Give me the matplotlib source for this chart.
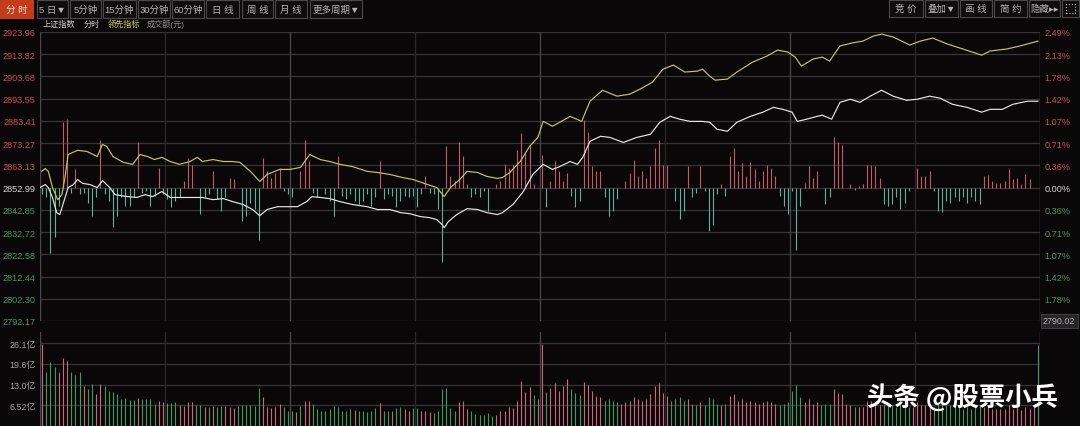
import matplotlib
matplotlib.use('Agg')
import matplotlib.pyplot as plt
from matplotlib.patches import Rectangle
import numpy as np

plt.rcParams['font.family'] = ['Liberation Sans', 'Noto Sans CJK SC', 'DejaVu Sans']

# ---- data ----
price_ticks = [2923.96, 2913.82, 2903.68, 2893.55, 2883.41, 2873.27, 2863.13,
               2852.99, 2842.85, 2832.72, 2822.58, 2812.44, 2802.30, 2792.17]
base_price = 2852.99
low_mark = 2790.02
vol_ticks = [26.1, 19.6, 13.0, 6.52]

# minutes since first open (4 sessions x 240 min) and price, 上证指数
idx_t = [0, 5, 8, 12, 16, 19, 22, 27, 32, 36, 41, 48, 55, 60, 67, 72, 84, 93, 101, 108,
         117, 125, 134, 144, 156, 166, 176, 185, 195, 204, 211, 218, 228, 237, 247, 256,
         261, 269, 278, 288, 300, 314, 324, 336, 346, 355, 365, 374, 381, 386, 388, 392,
         400, 410, 420, 429, 439, 444, 454, 464, 473, 483, 492, 499, 509, 516, 521, 528,
         538, 547, 560, 573, 586, 595, 605, 614, 624, 636, 643, 650, 660, 669, 682, 694,
         704, 713, 722, 727, 736, 746, 751, 760, 768, 778, 787, 797, 808, 819, 832, 842,
         854, 864, 876, 890, 904, 912, 924, 934, 948, 958]
idx_p = [2853.0, 2854.4, 2853.0, 2848.5, 2841.6, 2840.7, 2845.3, 2853.0, 2854.4, 2856.7,
         2854.9, 2854.4, 2853.0, 2856.2, 2853.0, 2849.8, 2848.9, 2848.5, 2849.8, 2848.9,
         2851.2, 2848.5, 2848.5, 2848.5, 2848.5, 2847.5, 2848.0, 2846.6, 2845.3, 2843.0,
         2840.2, 2843.0, 2844.3, 2844.3, 2844.3, 2846.6, 2848.9, 2848.5, 2848.0, 2846.6,
         2845.3, 2844.3, 2843.0, 2843.0, 2841.6, 2841.1, 2839.8, 2839.3, 2838.4, 2836.1,
         2834.7, 2837.5, 2840.7, 2843.4, 2843.0, 2841.6, 2840.7, 2841.6, 2845.3, 2851.2,
         2859.0, 2863.6, 2861.3, 2862.6, 2864.9, 2863.6, 2866.8, 2874.1, 2876.4, 2875.9,
         2873.6, 2875.9, 2877.3, 2882.8, 2885.5, 2884.2, 2883.2, 2883.2, 2882.8, 2879.6,
         2878.7, 2882.8, 2885.5, 2887.4, 2889.6, 2888.7, 2887.4, 2883.2, 2884.2, 2885.5,
         2886.0, 2884.2, 2891.9, 2893.3, 2891.9, 2894.7, 2897.4, 2894.7, 2892.8, 2893.3,
         2894.7, 2893.8, 2891.0, 2889.6, 2887.4, 2888.7, 2888.7, 2891.0, 2892.4, 2892.4]

# 领先指标
lead_t = [0, 5, 8, 12, 17, 21, 24, 27, 36, 45, 55, 60, 64, 70, 80, 89, 96, 103, 110, 117,
          125, 134, 144, 151, 156, 166, 176, 185, 192, 202, 211, 218, 230, 240, 250, 259,
          269, 278, 288, 300, 314, 324, 336, 348, 358, 372, 381, 388, 394, 403, 410, 420,
          429, 439, 444, 451, 461, 470, 478, 483, 492, 499, 509, 520, 528, 540, 554, 566,
          576, 588, 598, 608, 619, 631, 636, 643, 648, 660, 669, 684, 698, 708, 718, 725,
          731, 742, 751, 758, 768, 780, 790, 800, 808, 819, 835, 845, 857, 871, 886, 904,
          912, 928, 941, 958]
lead_p = [2859.9, 2861.7, 2860.4, 2853.0, 2847.5, 2849.8, 2857.6, 2868.1, 2870.0, 2869.5,
          2867.2, 2872.7, 2871.8, 2867.2, 2864.5, 2863.6, 2868.1, 2867.2, 2865.8, 2866.8,
          2864.9, 2863.6, 2864.9, 2866.8, 2864.9, 2865.8, 2864.9, 2864.9, 2864.5, 2860.4,
          2855.8, 2859.0, 2861.3, 2861.3, 2862.2, 2868.1, 2865.8, 2864.9, 2863.6, 2862.6,
          2860.4, 2859.9, 2859.0, 2857.6, 2856.7, 2854.4, 2853.0, 2848.9, 2853.0, 2856.7,
          2860.4, 2859.9, 2858.1, 2857.2, 2857.6, 2859.9, 2864.9, 2871.8, 2875.9, 2883.2,
          2881.0, 2882.8, 2885.5, 2883.2, 2892.4, 2897.4, 2894.7, 2895.6, 2897.9, 2901.1,
          2907.0, 2908.9, 2905.7, 2906.1, 2907.0, 2903.8, 2902.0, 2902.5, 2905.7, 2910.2,
          2913.0, 2915.7, 2914.8, 2912.5, 2908.4, 2911.6, 2912.5, 2910.7, 2917.6, 2919.0,
          2919.8, 2922.1, 2923.0, 2921.7, 2918.0, 2919.8, 2921.2, 2918.5, 2916.2, 2913.4,
          2915.3, 2916.2, 2917.6, 2919.8]

# buy/sell strength bars around the base line, one per 4 minutes (points)
power = [-3.0, -4.5, -30, -22.5, -8.3, 30, 31.5, -2.3, 8.3, -3,
         -2.3, -6.8, -12.8, -4.5, 21.8, -3, -6, -18, -12.8, -4.5,
         -8.3, -8.3, -4.5, 21, -2.3, -1.5, -8.3, -3.8, 9, -3,
         -5.3, -9, -6, -4.5, 3, 13.5, 10.5, 0, -12, -4.5,
         -3, 7.5, -5.3, -10.5, -4.5, 4.5, 3.8, 0, -15, -12.8,
         -6.8, -9.8, -24, 13.5, 7.5, 4.5, 6.8, 9, -1.5, -3,
         -4.5, 0, 7.5, 21.8, 12, -2.3, -4.5, 0, -3, -6,
         -12.8, 14.3, -3.8, -5.3, -3, -6, -7.5, -6, -3, -8.3,
         -4.5, 12.3, -5.3, -3, -3.8, -9, -6, -3.8, -4.5, -3.8,
         -9, -3, 5.3, -2.3, -3, -9.8, -33.8, 18.8, 5.3, 3,
         21, 14.3, 1.5, -4.5, -3, -4.5, -1.5, -10.5, 0, 1.5,
         3, 10.8, 9, 10.5, 17.3, 24.8, 15.8, 19.5, 1.5, 0,
         15, -9, 3, 12, 7.5, 3, 6.8, -3.8, -9, -6,
         30.8, 25.5, 9.8, 7.5, 7.5, -4.5, -12.8, -10.5, -5.3, 0,
         3, 6.8, 12.8, 5.3, 7.5, 4.5, 9.8, 18, 21.8, 10.5,
         10.5, 0, -6, -14.3, -10.5, 9.8, -4.5, -2.3, 9.8, -1.5,
         -20, -17, -3, 1.5, -3.8, 14.3, 18, 7.5, 11.3, 5.3,
         11.7, 8.7, 3, 7.5, 10.5, 9, 5.3, -3.8, -8.3, -12,
         -1.5, -28.5, -8.3, 2.3, 9.8, 4.5, 7.5, 0, -7.5, -4.5,
         23.3, 21, 19.5, 0, 1.8, -1.2, 0.8, 1.8, 10.5, 10.5,
         9.8, 4.5, -7.5, -8.3, -7.5, -4.5, -9.8, -6.8, -1.5, 0,
         9, 5.3, 5.3, 7.5, -1.5, -10.5, -11.3, -6, -6.8, -4.5,
         -6, -4.5, -6.8, -4.5, -6, -7.5, 5.3, 5.7, 3, 2.3,
         2.3, 3, 8.3, 3.8, 4.5, 1.5, 6, 3.8, 0, 0]

# turnover per 4 minutes (亿元) and up(1)/down(0)
vol = [25.8, 17.0, 20.1, 18.5, 17.0, 21.4, 20.4, 17.0, 16.0, 17.0,
       12.6, 11.6, 13.2, 10.1, 13.2, 12.6, 11.0, 10.7, 10.1, 8.5,
       8.8, 8.2, 8.2, 8.8, 8.5, 8.5, 8.5, 6.9, 7.9, 7.5,
       7.2, 7.2, 7.5, 6.6, 6.3, 7.5, 7.5, 6.6, 6.6, 6.0,
       6.0, 6.3, 6.0, 6.3, 6.3, 6.0, 5.7, 6.3, 6.6, 6.6,
       6.6, 6.3, 11.9, 9.1, 6.0, 5.7, 6.0, 6.9, 6.0, 4.7,
       4.7, 4.4, 6.3, 7.9, 7.9, 6.9, 5.3, 4.7, 4.7, 5.3,
       6.3, 6.0, 4.7, 4.7, 5.3, 5.0, 4.7, 4.7, 4.4, 4.7,
       5.7, 7.2, 4.7, 4.7, 4.7, 5.7, 6.0, 5.3, 4.7, 5.7,
       5.7, 4.7, 4.7, 4.4, 4.1, 4.7, 11.6, 11.9, 5.7, 4.7,
       7.5, 7.9, 5.3, 4.7, 3.8, 3.5, 3.5, 4.1, 3.1, 3.5,
       4.7, 4.7, 6.0, 5.7, 7.9, 14.2, 10.7, 12.3, 9.7, 8.5,
       25.8, 10.7, 12.0, 13.5, 11.0, 12.5, 14.8, 11.5, 10.5, 9.8,
       14.0, 13.0, 11.0, 9.5, 9.0, 8.0, 8.5, 8.0, 7.5, 7.0,
       7.5, 8.0, 9.0, 8.5, 8.0, 8.5, 10.0, 12.5, 13.5, 10.5,
       9.5, 8.0, 8.5, 9.0, 8.0, 8.5, 7.0, 6.5, 7.5, 6.5,
       9.0, 8.5, 7.0, 6.5, 7.0, 9.5, 10.0, 8.0, 8.5, 7.5,
       8.0, 7.5, 7.0, 7.5, 8.0, 7.5, 7.0, 6.5, 7.0, 7.5,
       11.0, 13.0, 9.0, 7.5, 8.5, 7.0, 7.5, 6.5, 7.0, 7.0,
       11.5, 10.5, 10.0, 7.0, 6.5, 6.0, 6.0, 6.0, 8.0, 8.0,
       7.5, 6.5, 7.0, 7.0, 6.5, 6.0, 7.0, 6.5, 6.0, 6.0,
       7.5, 6.5, 6.5, 7.0, 6.0, 7.5, 7.5, 6.5, 6.5, 6.0,
       6.0, 5.5, 6.0, 5.5, 6.0, 6.5, 6.0, 6.0, 5.5, 5.5,
       5.5, 5.5, 6.5, 5.5, 6.0, 5.0, 6.0, 5.5, 6.0, 25.5]
vol_up = [1, 0, 0, 0, 1, 1, 1, 0, 0, 0, 1, 0, 0, 1, 1, 0, 0, 0, 0, 0,
          0, 0, 0, 1, 0, 0, 0, 0, 1, 1, 0, 0, 0, 1, 1, 1, 1, 0, 0, 1,
          0, 1, 0, 0, 1, 1, 1, 0, 0, 0, 0, 0, 0, 1, 1, 1, 1, 1, 0, 0,
          0, 1, 0, 1, 1, 0, 0, 0, 0, 0, 0, 0, 0, 0, 0, 1, 0, 0, 0, 0,
          0, 1, 0, 0, 1, 0, 0, 1, 1, 0, 0, 1, 1, 1, 0, 0, 0, 0, 0, 0,
          1, 1, 1, 0, 0, 0, 0, 0, 0, 1, 1, 1, 1, 1, 1, 1, 1, 1, 0, 1,
          1, 0, 1, 1, 1, 1, 1, 0, 0, 0, 1, 1, 1, 1, 1, 0, 0, 0, 0, 1,
          1, 1, 1, 1, 1, 1, 1, 1, 1, 1, 1, 0, 0, 0, 0, 1, 0, 0, 1, 0,
          0, 0, 0, 1, 0, 1, 1, 1, 1, 1, 1, 1, 1, 1, 1, 1, 1, 0, 0, 0,
          0, 0, 0, 1, 1, 1, 1, 0, 0, 0, 1, 1, 1, 1, 1, 0, 1, 1, 1, 1,
          1, 1, 0, 0, 0, 0, 0, 0, 0, 1, 1, 1, 1, 1, 0, 0, 0, 0, 0, 0,
          0, 0, 0, 0, 0, 0, 1, 1, 1, 1, 1, 1, 1, 1, 1, 1, 1, 1, 1, 0]

# ---- styling ----
BG = '#0a0709'
GRID = '#383438'
RED = '#cc4a5c'
GREEN = '#3f9d58'
W, H = 1080, 427


def rect(x0, y0, x1, y1):
    return [x0 / W, 1 - y1 / H, (x1 - x0) / W, (y1 - y0) / H]


fig = plt.figure(figsize=(10.8, 4.27), dpi=100, facecolor=BG)

# main price panel
ax = fig.add_axes(rect(40, 33, 1040, 322), facecolor=BG)
ax.set_xlim(0, 960)
ax.set_ylim(price_ticks[-1], price_ticks[0])
for v in price_ticks:
    ax.axhline(v, color=GRID, lw=0.9, zorder=0)
for m in range(120, 960, 120):
    ax.axvline(m, color='#4a464a' if m % 240 == 0 else '#2a272a', lw=0.9, zorder=0)

bar_t = (np.arange(len(power)) + 0.5) * 4
pw = np.array(power)
ax.vlines(bar_t, base_price, base_price + pw,
          colors=np.where(pw >= 0, '#c25a6e', '#5fb39a'), lw=0.8, zorder=1)
ax.plot(lead_t, lead_p, color='#c9c84e', lw=0.85, zorder=2)
ax.plot(idx_t, idx_p, color='#e6e6e6', lw=0.85, zorder=3)

for s in ax.spines.values():
    s.set_visible(False)
ax.axvline(0, color='#4a464a', lw=1)
ax.axvline(960, color='#4a464a', lw=1)
ax.set_xticks([])
ax.set_yticks(price_ticks)
ax.set_yticklabels([f'{v:.2f}' for v in price_ticks])
ax.tick_params(axis='y', length=0, pad=3, labelsize=6.6)
for v, lab in zip(price_ticks, ax.get_yticklabels()):
    lab.set_color(RED if v > base_price + 0.01 else ('#d8d8d8' if abs(v - base_price) < 0.01 else GREEN))

ax2 = ax.twinx()
ax2.set_ylim(ax.get_ylim())
for s in ax2.spines.values():
    s.set_visible(False)
ax2.set_yticks(price_ticks[:-1])
ax2.set_yticklabels([f'{abs(v - base_price) / base_price * 100:.2f}%' for v in price_ticks[:-1]])
ax2.tick_params(axis='y', length=0, pad=3, labelsize=6.6)
for v, lab in zip(price_ticks[:-1], ax2.get_yticklabels()):
    lab.set_color(RED if v > base_price + 0.01 else ('#d8d8d8' if abs(v - base_price) < 0.01 else GREEN))
ax2.text(1.003, price_ticks[-1], f'{low_mark:.2f}', transform=ax2.get_yaxis_transform(),
         ha='left', va='center', fontsize=6.4, color='#b0b0b0',
         bbox=dict(boxstyle='square,pad=0.25', fc='#262426', ec='#4a464a', lw=0.6))

# turnover panel
axv = fig.add_axes(rect(40, 333, 1040, 427), facecolor=BG)
axv.set_xlim(0, 960)
axv.set_ylim(0, 29.6)
for v in vol_ticks:
    axv.axhline(v, color=GRID, lw=0.9, zorder=0)
for m in range(120, 960, 120):
    axv.axvline(m, color='#4a464a' if m % 240 == 0 else '#2a272a', lw=0.9, zorder=0)
vt = (np.arange(len(vol)) + 0.5) * 4
axv.vlines(vt, 0, vol, colors=['#c46a7c' if u else '#3f9c5e' for u in vol_up], lw=0.8, zorder=1)
for s in axv.spines.values():
    s.set_visible(False)
axv.axvline(0, color='#4a464a', lw=1)
axv.axvline(960, color='#4a464a', lw=1)
axv.set_xticks([])
axv.set_yticks(vol_ticks)
axv.set_yticklabels([f'{v:g}亿' if v != 13.0 else '13.0亿' for v in vol_ticks])
axv.tick_params(axis='y', length=0, pad=3, labelsize=6.4, colors='#a8a8a8')

# toolbar
left_btns = [('分 时', 0, 33), ('5 日▼', 37, 68), ('5分钟', 70, 101), ('15分钟', 103, 136),
             ('30分钟', 138, 170), ('60分钟', 172, 204), ('日 线', 206, 239), ('周 线', 242, 273),
             ('月 线', 275, 307), ('更多周期▼', 310, 362)]
right_btns = [('竞 价', 889, 923), ('叠加▼', 925, 958), ('画 线', 960, 992), ('简 约', 994, 1027),
              ('隐藏▸▸', 1029, 1060), ('', 1062, 1079)]
for i, (lab, x0, x1) in enumerate(left_btns):
    first = i == 0
    fig.patches.append(Rectangle((x0 / W, 1 - 19 / H), (x1 - x0) / W, 18 / H, transform=fig.transFigure,
                                 fc='#c23c1c' if first else '#0e0c0d', ec='#c23c1c' if first else '#4a484a',
                                 lw=0.8))
    fig.text((x0 + x1) / 2 / W, 1 - 10 / H, lab, ha='center', va='center', fontsize=6.8,
             color='#f0d8d0' if first else '#b4b4b4')
for lab, x0, x1 in right_btns:
    fig.patches.append(Rectangle((x0 / W, 1 - 18 / H), (x1 - x0) / W, 17 / H, transform=fig.transFigure,
                                 fc='#0e0c0d', ec='#4a484a', lw=0.8))
    if lab:
        fig.text((x0 + x1) / 2 / W, 1 - 9.5 / H, lab, ha='center', va='center', fontsize=6.8, color='#b4b4b4')
fig.patches.append(Rectangle((1066 / W, 1 - 14 / H), 9 / W, 9 / H, transform=fig.transFigure,
                             fc='none', ec='#b4b4b4', lw=0.8, ls=':'))

# legend row
for lab, x, c in [('上证指数', 43, '#d0d0d0'), ('分时', 84, '#c0c0c0'),
                  ('领先指标', 108, '#cfcf3c'), ('成交额(元)', 147, '#8c8c8c')]:
    fig.text(x / W, 1 - 24.5 / H, lab, ha='left', va='center', fontsize=5.9, color=c)

# watermark
fig.text(867 / W, 1 - 398 / H, '头条 @股票小兵', ha='left', va='center', fontsize=19,
         fontweight='bold', color='white',
         family=['Noto Sans CJK SC', 'DejaVu Sans'])

fig.savefig('out.png', dpi=100, facecolor=BG)
